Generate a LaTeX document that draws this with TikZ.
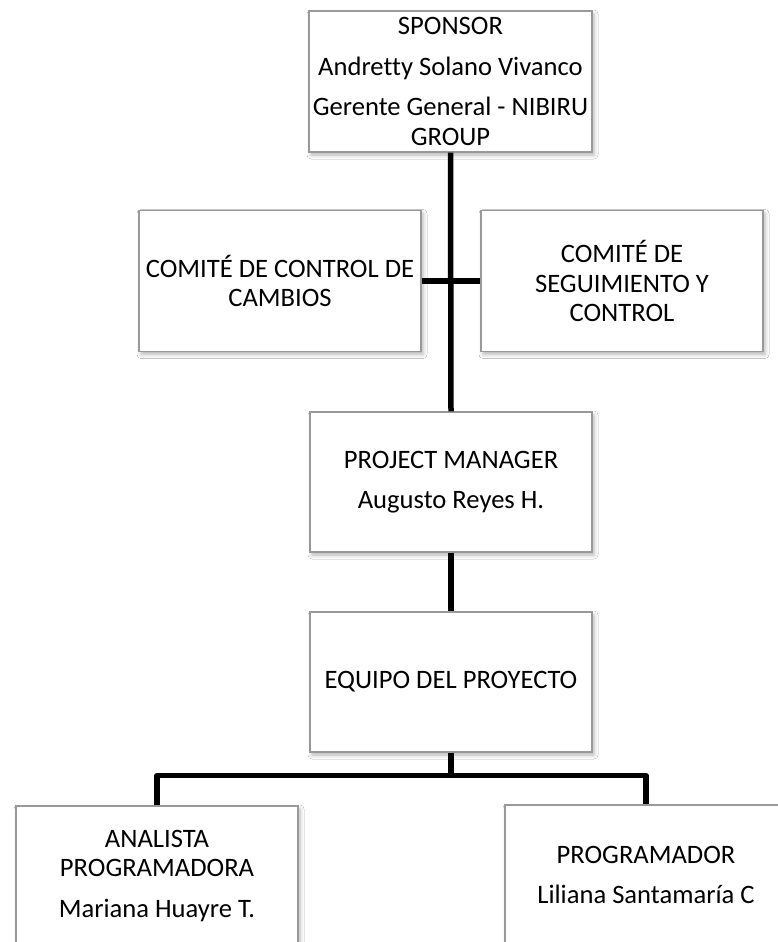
\documentclass[tikz,border=0pt]{standalone}
\usepackage{fontspec}
\setmainfont{Carlito}[Ligatures=NoCommon]
\usetikzlibrary{shadows.blur}

\begin{document}
\begin{tikzpicture}[x=1pt,y=-1pt,
  orgbox/.style={draw=black!40, line width=1.1pt, fill=white,
    minimum width=282pt, minimum height=141pt, inner sep=0pt,
    align=center, text=black,
    font=\fontsize{26.6}{29.5}\selectfont,
    blur shadow={shadow xshift=2pt, shadow yshift=-3pt,
      shadow blur radius=4pt, shadow opacity=30}},
  link/.style={line width=5.5pt, black}]

\useasboundingbox (0,0) rectangle (778,942);
\clip (0,0) rectangle (778,942);
\fill[white] (0,0) rectangle (778,942);

% top level
\node[orgbox, minimum width=283pt] (sponsor) at (450.5,81.5)
  {SPONSOR\\[11pt]Andretty Solano Vivanco\\[11pt]Gerente General - NIBIRU\\GROUP};

% committees
\node[orgbox] (ccc) at (280,281) {COMITÉ DE CONTROL DE\\CAMBIOS};
\node[orgbox] (csc) at (622,281) {COMITÉ DE\\SEGUIMIENTO Y\\CONTROL};

% management
\node[orgbox, minimum height=140pt] (pm) at (451,482)
  {PROJECT MANAGER\\[11pt]Augusto Reyes H.};
\node[orgbox, minimum height=140pt] (eq) at (451,682) {EQUIPO DEL PROYECTO};

% team members
\node[orgbox, minimum height=140pt] (an) at (157,876)
  {ANALISTA\\PROGRAMADORA\\[11pt]Mariana Huayre T.};
\node[orgbox, minimum height=140pt] (pg) at (646,875)
  {PROGRAMADOR\\[10pt]Liliana Santamaría C};

% connectors
\draw[link] (sponsor.south) -- (pm.north);
\draw[link] (ccc.east) -- (csc.west);
\draw[link] (pm.south) -- (eq.north);
\coordinate (split) at ([yshift=-23pt]eq.south);
\draw[link, line join=round] (eq.south) -- (split);
\draw[link, line join=round] (an.north) |- (split) -| (pg.north);

\end{tikzpicture}
\end{document}
